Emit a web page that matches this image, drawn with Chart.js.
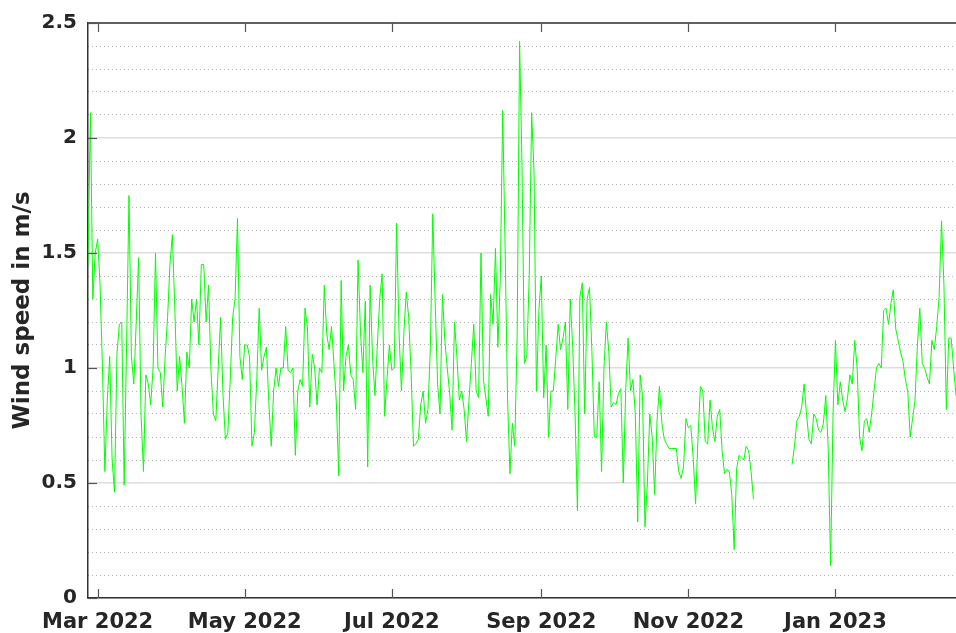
<!DOCTYPE html>
<html>
<head>
<meta charset="utf-8">
<script src="https://cdn.jsdelivr.net/npm/chart.js@4.4.1/dist/chart.umd.min.js"></script>
<style>
  html, body { margin: 0; padding: 0; background: #ffffff; }
  #wrap { width: 956px; height: 633px; }
</style>
</head>
<body>
<div id="wrap"><canvas id="c" width="956" height="633"></canvas></div>
<script>
// Day offsets are counted from 1 March 2022 (day 0). One value per day.
const firstDay = -4;
const lastDay = 356;
const windSpeed = [
  1.45, 2.11, 1.30, 1.50, 1.56, 1.36, 1.00, 0.55, 0.86, 1.05,
  0.60, 0.46, 1.06, 1.19, 1.20, 0.49, 1.10, 1.75, 1.05, 0.93,
  1.20, 1.48, 0.80, 0.55, 0.97, 0.93, 0.84, 1.00, 1.50, 1.00,
  0.98, 0.83, 1.05, 1.22, 1.45, 1.58, 1.26, 0.90, 1.05, 0.92,
  0.76, 1.07, 1.00, 1.30, 1.20, 1.30, 1.10, 1.45, 1.45, 1.20,
  1.36, 0.99, 0.80, 0.77, 1.00, 1.22, 0.88, 0.69, 0.72, 0.95,
  1.22, 1.30, 1.65, 1.05, 0.95, 1.10, 1.10, 1.05, 0.66, 0.72,
  0.95, 1.26, 0.99, 1.05, 1.09, 0.85, 0.66, 0.90, 1.00, 0.92,
  1.00, 1.00, 1.18, 0.99, 0.98, 1.00, 0.62, 0.90, 0.95, 0.92,
  1.26, 1.18, 0.83, 1.06, 1.00, 0.84, 1.00, 0.98, 1.36, 1.15,
  1.08, 1.18, 1.02, 0.85, 0.53, 1.38, 0.90, 1.05, 1.10, 0.97,
  0.95, 0.82, 1.47, 1.16, 0.98, 1.29, 0.57, 1.36, 1.05, 0.88,
  1.10, 1.30, 1.41, 0.79, 0.95, 1.10, 0.99, 1.00, 1.63, 1.15,
  0.90, 1.15, 1.33, 1.22, 0.98, 0.66, 0.67, 0.69, 0.84, 0.90,
  0.76, 0.82, 1.09, 1.67, 1.28, 0.93, 0.80, 1.32, 1.12, 1.00,
  0.89, 0.73, 1.20, 1.05, 0.86, 0.90, 0.82, 0.68, 0.86, 1.02,
  1.19, 0.90, 0.87, 1.50, 0.95, 0.87, 0.79, 1.32, 1.19, 1.52,
  1.09, 1.39, 2.12, 1.52, 0.87, 0.54, 0.76, 0.66, 1.15, 2.42,
  1.88, 1.02, 1.05, 1.40, 2.11, 1.85, 0.90, 1.25, 1.40, 0.87,
  1.10, 0.70, 0.90, 0.90, 1.04, 1.19, 1.08, 1.13, 1.20, 0.82,
  1.30, 1.10, 0.80, 0.38, 1.31, 1.37, 0.80, 1.30, 1.35, 1.07,
  0.70, 0.70, 0.94, 0.55, 1.00, 1.20, 1.07, 0.83, 0.85, 0.84,
  0.89, 0.91, 0.50, 0.90, 1.13, 0.90, 0.95, 0.80, 0.33, 0.97,
  0.88, 0.31, 0.50, 0.80, 0.70, 0.45, 0.77, 0.92, 0.76, 0.69,
  0.67, 0.65, 0.65, 0.65, 0.65, 0.55, 0.52, 0.57, 0.78, 0.74,
  0.75, 0.61, 0.41, 0.70, 0.92, 0.90, 0.68, 0.67, 0.86, 0.74,
  0.68, 0.79, 0.82, 0.64, 0.54, 0.56, 0.55, 0.45, 0.21, 0.56,
  0.62, 0.61, 0.60, 0.66, 0.64, 0.55, 0.43,
  null, null, null, null, null, null, null, null, null, null,
  null, null, null, null, null,
  0.58, 0.66, 0.77, 0.79, 0.83, 0.93, 0.80, 0.69, 0.67, 0.80,
  0.78, 0.73, 0.72, 0.76, 0.88, 0.65, 0.14, 0.80, 1.12, 0.84,
  0.94, 0.86, 0.81, 0.87, 0.97, 0.93, 1.12, 1.00, 0.70, 0.64,
  0.77, 0.78, 0.72, 0.80, 0.90, 1.00, 1.02, 1.00, 1.25, 1.26,
  1.19, 1.28, 1.34, 1.17, 1.12, 1.07, 1.03, 0.95, 0.90, 0.70,
  0.78, 0.86, 1.10, 1.26, 1.02, 1.00, 0.96, 0.93, 1.12, 1.08,
  1.18, 1.31, 1.64, 1.36, 0.82, 1.13, 1.13, 1.00, 0.88
];
// x tick positions (days from 1 Mar 2022) and their labels
const tickDays = [0, 61, 122, 184, 245, 306];
const tickLabels = ['Mar 2022', 'May 2022', 'Jul 2022', 'Sep 2022', 'Nov 2022', 'Jan 2023'];
// y ticks
const yTicks = [0, 0.5, 1, 1.5, 2, 2.5];
const yTickLabels = ['0', '0.5', '1', '1.5', '2', '2.5'];
const yTitle = 'Wind speed in m/s';

const points = windSpeed.map((v, i) => ({ x: firstDay + i, y: v }));

const FONT = "'DejaVu Sans', 'Verdana', sans-serif";
const TXT = '#262626';
const AXIS = '#333333';

const isMajor = v => Math.abs(v * 2 - Math.round(v * 2)) < 1e-6;

const frameTicks = {
  id: 'frameTicks',
  afterDatasetsDraw(chart) {
    const { ctx, chartArea: a, scales } = chart;
    ctx.save();
    ctx.strokeStyle = AXIS;
    ctx.lineWidth = 1.5;
    // top frame line
    ctx.beginPath();
    ctx.moveTo(a.left, a.top);
    ctx.lineTo(a.right, a.top);
    ctx.stroke();
    ctx.strokeStyle = '#555555';
    ctx.lineWidth = 1.2;
    // inward x ticks at bottom and top
    scales.x.ticks.forEach(t => {
      const px = Math.round(scales.x.getPixelForValue(t.value)) + 0.5;
      ctx.beginPath();
      ctx.moveTo(px, a.bottom);
      ctx.lineTo(px, a.bottom - 9);
      ctx.moveTo(px, a.top);
      ctx.lineTo(px, a.top + 9);
      ctx.stroke();
    });
    // inward y ticks
    scales.y.ticks.forEach(t => {
      const py = Math.round(scales.y.getPixelForValue(t.value)) + 0.5;
      ctx.beginPath();
      ctx.moveTo(a.left, py);
      ctx.lineTo(a.left + 9, py);
      ctx.stroke();
    });
    ctx.restore();
  }
};

new Chart(document.getElementById('c'), {
  type: 'line',
  data: {
    datasets: [{
      data: points,
      borderColor: '#00ff00',
      borderWidth: 1,
      pointRadius: 0,
      tension: 0,
      spanGaps: false,
      fill: false
    }]
  },
  options: {
    responsive: false,
    animation: false,
    devicePixelRatio: 1,
    layout: { padding: { top: 20, right: 0, left: 0, bottom: 0 } },
    plugins: { legend: { display: false }, tooltip: { enabled: false } },
    scales: {
      x: {
        type: 'linear',
        min: firstDay,
        max: lastDay,
        afterBuildTicks: s => { s.ticks = tickDays.map(v => ({ value: v })); },
        afterFit: s => { s.height = 35; },
        ticks: {
          autoSkip: false,
          maxRotation: 0,
          padding: 12,
          color: TXT,
          font: { family: FONT, size: 21, weight: 'bold' },
          callback: v => tickLabels[tickDays.indexOf(v)]
        },
        grid: { display: true, drawOnChartArea: false, drawTicks: false },
        border: { display: true, color: AXIS, width: 1.5 }
      },
      y: {
        type: 'linear',
        position: 'left',
        min: 0,
        max: 2.5,
        afterBuildTicks: s => { s.ticks = yTicks.map(v => ({ value: v })); },
        afterFit: s => { s.width = 88; },
        ticks: {
          padding: 11,
          color: TXT,
          font: { family: FONT, size: 20, weight: 'bold' },
          callback: v => yTickLabels[yTicks.indexOf(v)]
        },
        title: {
          display: true,
          text: yTitle,
          color: TXT,
          font: { family: FONT, size: 23, weight: 'bold' },
          padding: { top: 9, bottom: 0 }
        },
        grid: { color: '#dedede', lineWidth: 1.5, drawTicks: false },
        border: { display: true, color: AXIS, width: 1.5 }
      },
      yMinor: {
        type: 'linear',
        position: 'left',
        min: 0,
        max: 2.5,
        afterBuildTicks: s => {
          const arr = [];
          for (let k = 0; k <= 25; k++) arr.push({ value: k / 10 });
          s.ticks = arr;
        },
        afterFit: s => { s.width = 0; },
        ticks: { display: false },
        grid: {
          drawTicks: false,
          lineWidth: 1,
          color: c => (c.tick && isMajor(c.tick.value)) ? 'rgba(0,0,0,0)' : '#b4b4b4'
        },
        border: { display: false, dash: [1, 3] }
      }
    }
  },
  plugins: [frameTicks]
});
</script>
</body>
</html>
